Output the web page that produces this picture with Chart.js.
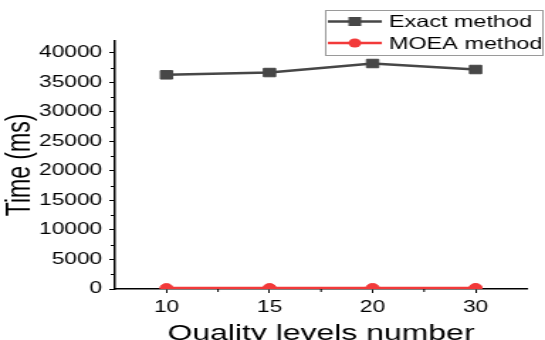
<!DOCTYPE html>
<html lang="en">

<head>
  <meta charset="UTF-8">
  <title>Time vs quality levels</title>
  <script src="https://cdn.jsdelivr.net/npm/chart.js"></script>
  <style>
    html, body {
      margin: 0;
      padding: 0;
      background: #fff;
      overflow: hidden;
    }
    /* the source figure is stretched sideways, so draw narrow and widen it */
    #wrap {
      width: 384px;
      height: 340px;
      transform: scaleX(1.4193);
      transform-origin: 0 0;
    }
  </style>
</head>

<body>
  <div id="wrap">
    <canvas id="timeChart" width="384" height="340"></canvas>
  </div>

  <script>
    const levels = ['10', '15', '20', '30'];
    const exactTimes = [36270, 36660, 38190, 37170];
    const moeaTimes = [150, 160, 170, 180];
    const yTicks = [0, 5000, 10000, 15000, 20000, 25000, 30000, 35000, 40000];

    const FONT = "'Liberation Sans', Arial, sans-serif";

    // minor ticks and the boxed legend in the top right corner
    const extras = {
      id: 'extras',
      afterDraw(chart) {
        const ctx = chart.ctx;
        const x = chart.scales.x, y = chart.scales.y;
        ctx.save();
        ctx.strokeStyle = '#000';
        ctx.lineWidth = 1;
        for (let i = 0; i < yTicks.length - 1; i++) {
          const py = Math.round(y.getPixelForValue((yTicks[i] + yTicks[i + 1]) / 2)) + 0.5;
          ctx.beginPath();
          ctx.moveTo(x.left - 3, py);
          ctx.lineTo(x.left, py);
          ctx.stroke();
        }
        for (let i = 0; i < levels.length - 1; i++) {
          const px = (x.getPixelForValue(i) + x.getPixelForValue(i + 1)) / 2;
          ctx.beginPath();
          ctx.moveTo(px, y.bottom);
          ctx.lineTo(px, y.bottom + 3);
          ctx.stroke();
        }

        // legend
        ctx.strokeStyle = '#9a9a9a';
        ctx.lineWidth = 1;
        ctx.strokeRect(229.5, 10.5, 153, 45);
        chart.data.datasets.forEach((ds, i) => {
          const cy = 21.5 + i * 21.5;
          ctx.strokeStyle = ds.borderColor;
          ctx.lineWidth = ds.borderWidth;
          ctx.beginPath();
          ctx.moveTo(231, cy);
          ctx.lineTo(269, cy);
          ctx.stroke();
          ctx.fillStyle = ds.borderColor;
          ctx.beginPath();
          if (ds.pointStyle === 'rect') {
            ctx.rect(245.5, cy - 4.5, 9, 9);
          } else {
            ctx.arc(250, cy, 4.5, 0, Math.PI * 2);
          }
          ctx.fill();
          ctx.fillStyle = '#000';
          ctx.font = '16.5px ' + FONT;
          ctx.textBaseline = 'middle';
          ctx.fillText(ds.label, 274, cy + 1);
        });
        ctx.restore();
      }
    };

    const ctx = document.getElementById('timeChart').getContext('2d');
    new Chart(ctx, {
      type: 'line',
      data: {
        labels: levels,
        datasets: [{
          label: 'Exact method',
          data: exactTimes,
          borderColor: '#474747',
          backgroundColor: '#474747',
          borderWidth: 2.5,
          pointStyle: 'rect',
          pointRadius: 6,
          pointBorderWidth: 1,
          tension: 0
        }, {
          label: 'MOEA method',
          data: moeaTimes,
          borderColor: '#f23a3a',
          backgroundColor: '#f23a3a',
          borderWidth: 2.5,
          pointStyle: 'circle',
          pointRadius: 4.5,
          pointBorderWidth: 1,
          tension: 0,
          clip: { left: 10, right: 10, top: 10, bottom: 0 }
        }]
      },
      options: {
        responsive: false,
        animation: false,
        devicePixelRatio: 1,
        layout: { padding: { left: 0, right: 12.6, top: 41, bottom: 0 } },
        plugins: {
          legend: { display: false },
          tooltip: { enabled: false }
        },
        scales: {
          x: {
            type: 'category',
            offset: true,
            afterFit(scale) { scale.height = 51; },
            grid: {
              offset: false,
              drawOnChartArea: false,
              drawTicks: true,
              tickLength: 4,
              color: '#000'
            },
            border: { color: '#000', width: 1.5 },
            ticks: {
              color: '#000',
              padding: 5,
              maxRotation: 0,
              font: { family: FONT, size: 16 }
            },
            title: {
              display: true,
              text: 'Quality levels number',
              color: '#000',
              padding: 0,
              font: { family: FONT, size: 22.5, lineHeight: 0.53 }
            }
          },
          y: {
            min: 0,
            max: 42000,
            afterFit(scale) { scale.width = 81; },
            afterBuildTicks(scale) {
              scale.ticks = yTicks.map(v => ({ value: v }));
            },
            grid: {
              drawOnChartArea: false,
              drawTicks: true,
              tickLength: 4,
              color: '#000'
            },
            border: { color: '#000', width: 1.5 },
            ticks: {
              color: '#000',
              padding: 5,
              includeBounds: false,
              callback: v => String(v),
              font: { family: FONT, size: 16 }
            },
            title: {
              display: true,
              text: 'Time (ms)',
              color: '#000',
              padding: { top: 1, bottom: 0 },
              font: { family: FONT, size: 23, lineHeight: 1.2 }
            }
          }
        }
      },
      plugins: [extras]
    });
  </script>
</body>

</html>
